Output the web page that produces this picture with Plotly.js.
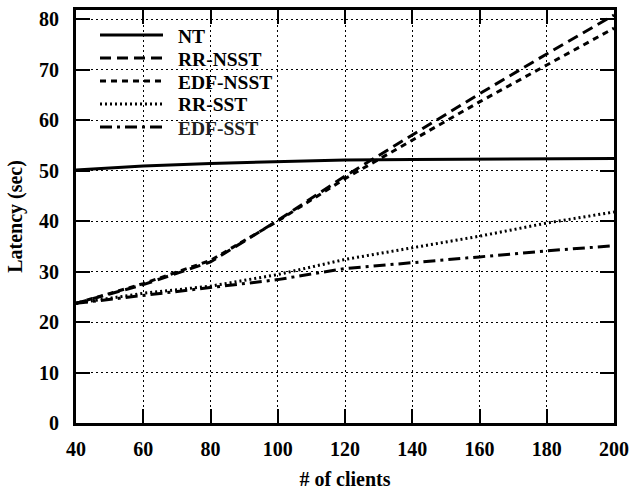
<!DOCTYPE html>
<html>
<head>
<meta charset="utf-8">
<script src="https://cdn.plot.ly/plotly-3.0.1.min.js"></script>
<style>
html,body{margin:0;padding:0;background:#fff;}
#chart{width:631px;height:490px;}
</style>
</head>
<body>
<div id="chart"></div>
<script>
// ---- data ----
var clients = [40, 60, 80, 100, 120, 140, 160, 180, 200];
var seriesNames = ["NT", "RR-NSST", "EDF-NSST", "RR-SST", "EDF-SST"];
var nt      = [50.1, 50.9, 51.4, 51.8, 52.1, 52.2, 52.3, 52.3, 52.4];
var rrNsst  = [23.7, 27.4, 31.9, 40.1, 48.9, 57.0, 65.2, 73.1, 80.8];
var edfNsst = [23.7, 27.6, 32.2, 40.0, 48.4, 56.0, 63.6, 70.9, 78.2];
var rrSst   = [23.7, 25.7, 27.1, 29.4, 32.4, 34.7, 37.0, 39.6, 41.8];
var edfSst  = [23.7, 25.3, 26.8, 28.4, 30.6, 31.7, 32.9, 34.1, 35.1];
var xTicks = [40, 60, 80, 100, 120, 140, 160, 180, 200];
var yTicks = [0, 10, 20, 30, 40, 50, 60, 70, 80];

var values = [nt, rrNsst, edfNsst, rrSst, edfSst];
var dashes = ["solid", "11px,6px", "6px,5px", "2px,3px", "12px,5px,3px,5px"];
var FONT = "'Liberation Serif', 'Times New Roman', Times, serif";

var traces = values.map(function (v, i) {
  return {
    x: clients, y: v, name: seriesNames[i], type: "scatter", mode: "lines",
    line: {color: "#000", width: 3, dash: dashes[i]},
    showlegend: false, hoverinfo: "skip"
  };
});

// manual legend (samples + labels), in paper coords
var L = 76, R = 614, T = 10, B = 423;
function px(x){ return (x - L) / (R - L); }
function py(y){ return (B - y) / (B - T); }
var rowY = [35, 58, 81, 104, 127];
var shapes = [], annotations = [];
seriesNames.forEach(function (n, i) {
  shapes.push({type: "line", xref: "paper", yref: "paper",
    x0: px(100), x1: px(163), y0: py(rowY[i]), y1: py(rowY[i]),
    line: {color: "#000", width: 3, dash: dashes[i]}});
  annotations.push({xref: "paper", yref: "paper", x: px(176), y: py(rowY[i] + 1),
    xanchor: "left", yanchor: "middle", showarrow: false, text: n,
    font: {family: FONT, size: 19.5, color: i === 4 ? "#222" : "#000", weight: "bold"}});
});

var tf = {family: FONT, size: 20, color: "#000", weight: "bold"};
var axisCommon = {
  showline: true, linewidth: 3, linecolor: "#000", mirror: "ticks",
  ticks: "inside", ticklen: 14, tickwidth: 2, tickcolor: "#000",
  showgrid: true, gridcolor: "#000", gridwidth: 1, griddash: "2px,3px",
  zeroline: false, tickfont: tf
};

var layout = {
  width: 631, height: 490,
  margin: {l: L, r: 631 - R, t: T, b: 490 - B},
  paper_bgcolor: "#fff", plot_bgcolor: "#fff",
  font: {family: FONT, size: 20, color: "#000"},
  xaxis: Object.assign({}, axisCommon, {
    range: [40, 200], tickvals: xTicks, ticktext: xTicks.map(String),
    ticklabelstandoff: 6,
    title: {text: "# of clients", font: tf, standoff: 18}
  }),
  yaxis: Object.assign({}, axisCommon, {
    range: [0, 81.8], tickvals: yTicks, ticktext: yTicks.map(String),
    ticklabelstandoff: 10,
    title: {text: "Latency (sec)", font: tf, standoff: 12}
  }),
  shapes: shapes, annotations: annotations, showlegend: false
};

Plotly.newPlot("chart", traces, layout, {staticPlot: true, displayModeBar: false});
</script>
</body>
</html>
